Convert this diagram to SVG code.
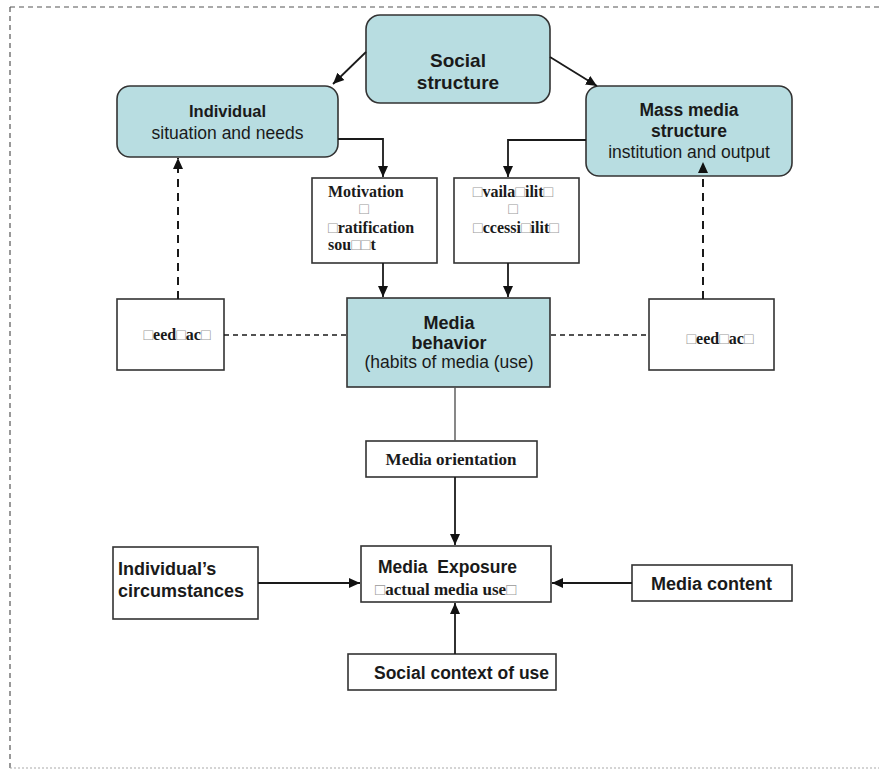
<svg xmlns="http://www.w3.org/2000/svg" width="879" height="772" viewBox="0 0 879 772">
<style>
.bg{fill:#ffffff}
.frame{fill:none;stroke:#555;stroke-width:1.2;stroke-dasharray:5 4}
.frameb{fill:none;stroke:#aaa;stroke-width:1.2;stroke-dasharray:2 2}
.blue{fill:#b8dde1;stroke:#333;stroke-width:1.6}
.box{fill:#ffffff;stroke:#333;stroke-width:1.6}
.ln{fill:none;stroke:#1a1a1a;stroke-width:1.8}
.lg{fill:none;stroke:#555;stroke-width:1.4}
.dash{fill:none;stroke:#1a1a1a;stroke-width:1.5;stroke-dasharray:5 4}
.dashv{fill:none;stroke:#1a1a1a;stroke-width:2;stroke-dasharray:8 6}
.hb{font-family:"Liberation Sans",Arial,sans-serif;font-weight:bold;fill:#1a1a1a}
.hr{font-family:"Liberation Sans",Arial,sans-serif;fill:#1a1a1a}
.tb{font-family:"Liberation Serif","Times New Roman",serif;font-weight:bold;fill:#1a1a1a}
.sq{fill:#999;font-weight:normal}
</style>
<defs>
<marker id="ah" markerWidth="12" markerHeight="12" refX="11" refY="6" orient="auto" markerUnits="userSpaceOnUse">
<path d="M0,1 L11,6 L0,11 z" fill="#111"/>
</marker>
</defs>
<rect class="bg" x="0" y="0" width="879" height="772"/>
<g id="frame">
<path class="frame" d="M10,7 H879 M10,7 V768"/>
<path class="frameb" d="M10,768 H879"/>
</g>
<g id="social-structure">
<rect class="blue" x="366" y="15" width="184" height="88" rx="14"/>
<text class="hb" font-size="19" text-anchor="middle" x="458" y="67">Social</text>
<text class="hb" font-size="19" text-anchor="middle" x="458" y="89">structure</text>
</g>
<g id="individual">
<rect class="blue" x="117" y="86" width="221" height="71" rx="13"/>
<text class="hb" font-size="16.5" text-anchor="middle" x="227.5" y="117">Individual</text>
<text class="hr" font-size="17.5" text-anchor="middle" x="227.5" y="139">situation and needs</text>
</g>
<g id="mass-media">
<rect class="blue" x="586" y="86" width="206" height="90" rx="13"/>
<text class="hb" font-size="17.5" text-anchor="middle" x="689" y="116">Mass media</text>
<text class="hb" font-size="17.5" text-anchor="middle" x="689" y="137">structure</text>
<text class="hr" font-size="17.5" text-anchor="middle" x="689" y="158">institution and output</text>
</g>
<g id="motivation">
<rect class="box" x="312" y="178" width="125" height="85"/>
<text class="tb" font-size="16" x="328" y="197">Motivation</text>
<text class="tb" font-size="16" text-anchor="middle" x="364" y="214"><tspan class="sq">□</tspan></text>
<text class="tb" font-size="16" x="328" y="233"><tspan class="sq">□</tspan>ratification</text>
<text class="tb" font-size="16" x="328" y="250">sou<tspan class="sq">□□</tspan>t</text>
</g>
<g id="availability">
<rect class="box" x="454" y="178" width="125" height="85"/>
<text class="tb" font-size="16" text-anchor="middle" x="513" y="197"><tspan class="sq">□</tspan>vaila<tspan class="sq">□</tspan>ilit<tspan class="sq">□</tspan></text>
<text class="tb" font-size="16" text-anchor="middle" x="513" y="214"><tspan class="sq">□</tspan></text>
<text class="tb" font-size="16" text-anchor="middle" x="516" y="233"><tspan class="sq">□</tspan>ccessi<tspan class="sq">□</tspan>ilit<tspan class="sq">□</tspan></text>
</g>
<g id="feedback-left">
<rect class="box" x="117" y="299" width="107" height="71"/>
<text class="tb" font-size="16" text-anchor="middle" x="177" y="340"><tspan class="sq">□</tspan>eed<tspan class="sq">□</tspan>ac<tspan class="sq">□</tspan></text>
</g>
<g id="media-behavior">
<rect class="blue" x="347" y="298" width="203" height="89" rx="0"/>
<text class="hb" font-size="18" text-anchor="middle" x="449" y="329">Media</text>
<text class="hb" font-size="18" text-anchor="middle" x="449" y="349">behavior</text>
<text class="hr" font-size="17.5" text-anchor="middle" x="449" y="368">(habits of media (use)</text>
</g>
<g id="feedback-right">
<rect class="box" x="649" y="299" width="125" height="71"/>
<text class="tb" font-size="16" text-anchor="middle" x="720" y="344"><tspan class="sq">□</tspan>eed<tspan class="sq">□</tspan>ac<tspan class="sq">□</tspan></text>
</g>
<g id="media-orientation">
<rect class="box" x="366" y="441" width="171" height="36"/>
<text class="tb" font-size="17" text-anchor="middle" x="451" y="465">Media orientation</text>
</g>
<g id="media-exposure">
<rect class="box" x="361" y="546" width="190" height="56"/>
<text class="hb" font-size="17.5" x="378" y="573" xml:space="preserve">Media  Exposure</text>
<text class="tb" font-size="17" x="375" y="595"><tspan class="sq">□</tspan>actual media use<tspan class="sq">□</tspan></text>
</g>
<g id="individuals-circumstances">
<rect class="box" x="113" y="547" width="145" height="72"/>
<text class="hb" font-size="18" x="118" y="575">Individual’s</text>
<text class="hb" font-size="18" x="118" y="597">circumstances</text>
</g>
<g id="media-content">
<rect class="box" x="632" y="565" width="160" height="36"/>
<text class="hb" font-size="18" x="651" y="590">Media content</text>
</g>
<g id="social-context">
<rect class="box" x="348" y="654" width="208" height="36"/>
<text class="hb" font-size="17.5" x="374" y="679">Social context of use</text>
</g>
<g id="connectors">
<path class="ln" d="M366,52 L333,84" marker-end="url(#ah)"/>
<path class="ln" d="M550,57 L597,86" marker-end="url(#ah)"/>
<path class="ln" d="M338,139 H383 V177" marker-end="url(#ah)"/>
<path class="ln" d="M586,140 H508 V177" marker-end="url(#ah)"/>
<path class="ln" d="M383,263 V297" marker-end="url(#ah)"/>
<path class="ln" d="M508,263 V297" marker-end="url(#ah)"/>
<path class="dashv" d="M178,299 V158" marker-end="url(#ah)"/>
<path class="dashv" d="M703,299 V162" marker-end="url(#ah)"/>
<path class="dash" d="M224,335 H347"/>
<path class="dash" d="M551,335 H649"/>
<path class="lg" d="M455,387 V441"/>
<path class="ln" d="M455,477 V545" marker-end="url(#ah)"/>
<path class="ln" d="M258,583 H360" marker-end="url(#ah)"/>
<path class="ln" d="M632,583 H552" marker-end="url(#ah)"/>
<path class="ln" d="M455,654 V603" marker-end="url(#ah)"/>
</g>
</svg>
